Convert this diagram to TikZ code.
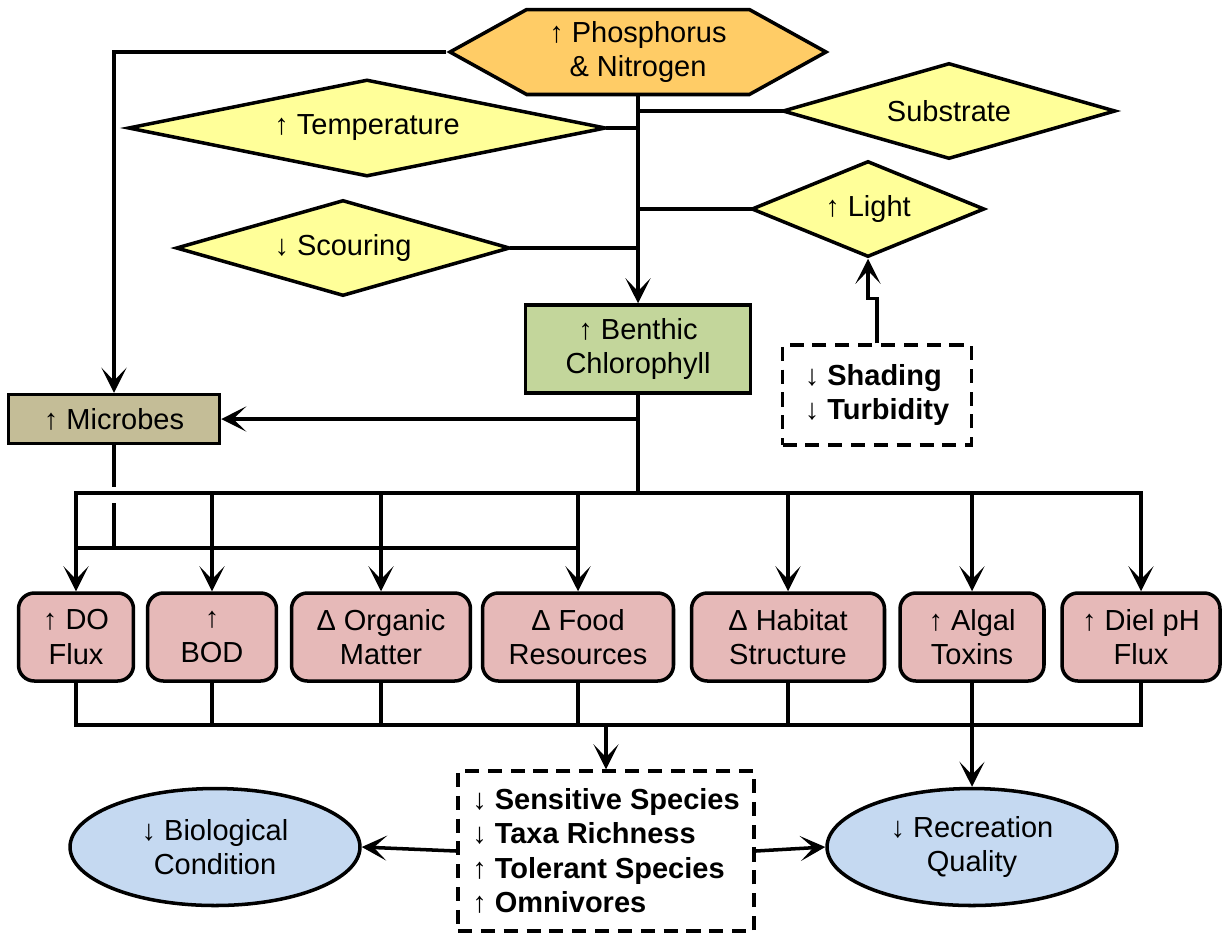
\documentclass[tikz,border=0pt]{standalone}
\usepackage{fontspec}
\setmainfont{Liberation Sans}
\usetikzlibrary{arrows.meta,positioning,shapes.geometric,shapes.symbols}
\definecolor{nutr}{RGB}{255,204,102}
\definecolor{fact}{RGB}{255,255,153}
\definecolor{chl}{RGB}{195,214,155}
\definecolor{micr}{RGB}{196,189,151}
\definecolor{resp}{RGB}{230,185,184}
\definecolor{endp}{RGB}{197,217,241}
\newcommand{\incr}{\textmd{↑}}
\newcommand{\decr}{\textmd{↓}}
\tikzset{
  blk/.style={draw, line width=2pt, align=center, font=\fontsize{16.5}{19.5}\selectfont, inner sep=0pt},
  hexa/.style={blk, signal, signal to=west and east, signal pointer angle=58, fill=nutr},
  dia/.style={blk, diamond, fill=fact},
  sbox/.style={blk, rectangle},
  rbox/.style={blk, rectangle, rounded corners=9pt, fill=resp, minimum height=1.76cm},
  dbox/.style={blk, rectangle, dash pattern=on 8pt off 5pt, align=left, font=\fontsize{16.5}{19.5}\selectfont\bfseries},
  ell/.style={blk, ellipse, fill=endp, minimum width=5.8cm, minimum height=2.34cm},
  arr/.style={-{Stealth[length=5mm,width=5mm,inset=2.6mm]}, line width=2pt},
  ln/.style={line width=2pt, line cap=rect},
}
\begin{document}
\begin{tikzpicture}[x=0.02cm, y=-0.02cm]
\useasboundingbox (0,0) rectangle (1222,934);
\node[hexa, minimum width=7.52cm, minimum height=1.7cm] (pn) at (638,52) {↑ Phosphorus\\\& Nitrogen};
\node[dia, minimum width=9.56cm, minimum height=1.94cm, aspect=4.9] (tmp) at (367,128) {↑ Temperature};
\node[dia, minimum width=6.66cm, minimum height=1.92cm, aspect=3.5] (sub) at (949,111) {Substrate};
\node[dia, minimum width=4.66cm, minimum height=1.92cm, aspect=2.4] (lgt) at (868,209) {↑ Light};
\node[dia, minimum width=6.68cm, minimum height=1.92cm, aspect=3.5] (scr) at (343,248) {↓ Scouring};
\node[sbox, fill=chl, minimum width=4.5cm, minimum height=1.76cm] (bc) at (638,349) {↑ Benthic\\Chlorophyll};
\node[dbox, minimum width=3.78cm, minimum height=2cm] (shd) at (877,395) {\decr\ Shading\\\decr\ Turbidity};
\node[sbox, fill=micr, minimum width=4.22cm, minimum height=0.98cm] (mic) at (114,419) {↑ Microbes};
\node[rbox, minimum width=2.3cm] (do) at (76,637) {↑ DO\\Flux};
\node[rbox, minimum width=2.58cm] (bod) at (212,637) {↑\\BOD};
\node[rbox, minimum width=3.58cm] (om) at (381,637) {Δ Organic\\Matter};
\node[rbox, minimum width=3.82cm] (fr) at (578,637) {Δ Food\\Resources};
\node[rbox, minimum width=3.86cm] (hs) at (788,637) {Δ Habitat\\Structure};
\node[rbox, minimum width=2.88cm] (tox) at (972,637) {↑ Algal\\Toxins};
\node[rbox, minimum width=3.16cm] (dp) at (1141,637) {↑ Diel pH\\Flux};
\node[dbox, minimum width=5.92cm, minimum height=3.2cm] (rsp) at (606,851) {\decr\ Sensitive Species\\\decr\ Taxa Richness\\\incr\ Tolerant Species\\\incr\ Omnivores};
\node[ell] (bio) at (215,847) {↓ Biological\\Condition};
\node[ell] (rq) at (972,847) {↓ Recreation\\Quality};
\coordinate (tb) at (638,493);
\coordinate (mb) at (577,548);
\coordinate (lb) at (605,725);
\draw[arr] (pn.south) -- (bc.north);
\foreach \n in {tmp,scr} \draw[ln] (\n.east) -- (\n.east -| pn.south);
\foreach \n in {sub,lgt} \draw[ln] (\n.west) -- (\n.west -| pn.south);
\draw[arr] (pn.west) -| (mic.north);
\draw[arr] (shd.north) -- ++(0,-45) -| (lgt.south);
\draw[ln] (bc.south) -- (tb);
\draw[arr] (bc.south |- mic.east) -- (mic.east);
\draw[ln] (do.north |- tb) -- (dp.north |- tb);
\foreach \n in {do,bod,om,fr,hs,tox,dp} \draw[arr] (\n.north |- tb) -- (\n.north);
\draw[ln] (mic.south) -- ++(0,40);
\draw[ln] (mic.south |- 0,505) -- (mic.south |- mb);
\draw[ln] (do.north |- mb) -- (fr.north |- mb);
\draw[ln] (do.south) |- (lb) -| (dp.south);
\foreach \n in {bod,om,fr,hs,tox} \draw[ln] (\n.south) -- (\n.south |- lb);
\draw[arr] (rsp.north |- lb) -- (rsp.north);
\draw[arr] (tox.south) -- (rq.north);
\draw[arr] (rsp.west) -- (bio.east);
\draw[arr] (rsp.east) -- (rq.west);
\end{tikzpicture}
\end{document}
